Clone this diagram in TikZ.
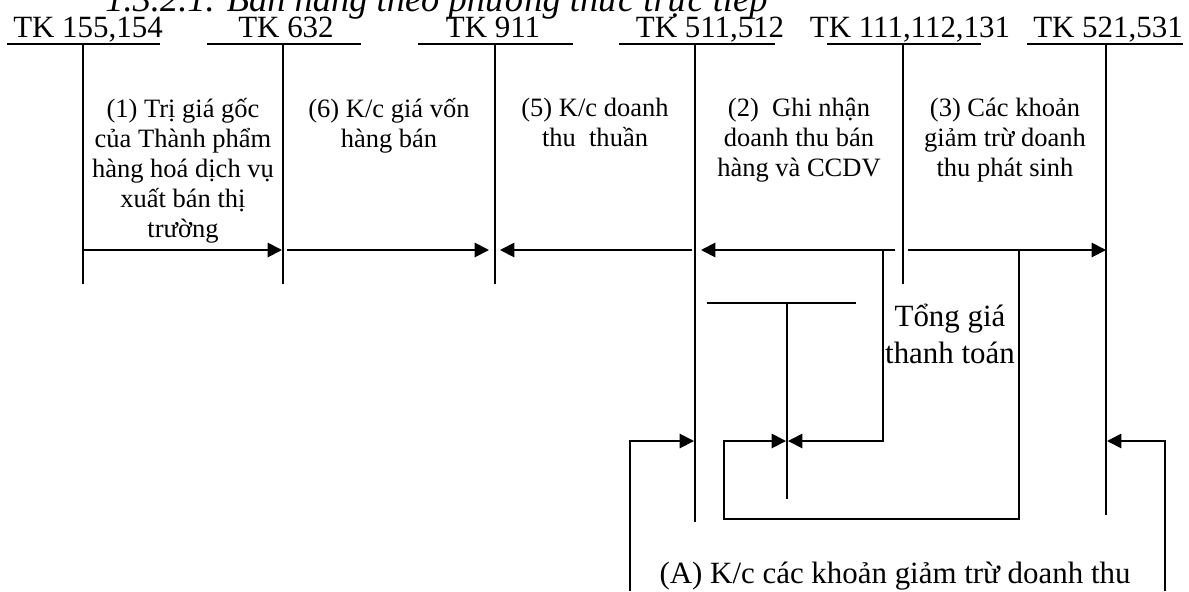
\documentclass[tikz,border=0pt]{standalone}
\usepackage{fontspec}
\setmainfont{Liberation Serif}
\usetikzlibrary{arrows.meta}

\begin{document}
\begin{tikzpicture}[
    x=0.4528pt, y=-0.4528pt,
    acct/.style={font=\fontsize{14}{16}\selectfont, anchor=base, inner sep=0pt},
    colnote/.style={font=\fontsize{12}{13.6}\selectfont, align=center, anchor=north, inner sep=0pt, execute at begin node=\strut},
    bignote/.style={font=\fontsize{14}{16.5}\selectfont, align=center, anchor=north, inner sep=0pt, execute at begin node=\strut},
    uline/.style={line width=0.6pt},
    tline/.style={line width=0.6pt},
    link/.style={line width=0.85pt},
    flow/.style={line width=0.85pt, -{Triangle[length=6.5pt,width=6.5pt]}},
  ]
    \useasboundingbox (0,0) rectangle (1189,591);

    % --- Title (cut at the top) ---
    \node[font=\fontsize{16.5}{18}\selectfont\itshape, anchor=base west, inner sep=0pt] (title) at (105,11)
      {1.3.2.1. Bán hàng theo phương thức trực tiếp};

    % --- Account headers ---
    \node[acct] (h1) at (88,37)   {TK 155,154};
    \node[acct] (h2) at (286,37)  {TK 632};
    \node[acct] (h3) at (493,37)  {TK 911};
    \node[acct] (h4) at (710,37)  {TK 511,512};
    \node[acct] (h5) at (910,37)  {TK 111,112,131};
    \node[acct] (h6) at (1108,37) {TK 521,531};
    \draw[uline] (7,44)    -- (160,44);
    \draw[uline] (207,44)  -- (361,44);
    \draw[uline] (418,44)  -- (573,44);
    \draw[uline] (619,44)  -- (775,44);
    \draw[uline] (827,44)  -- (981,44);
    \draw[uline] (1027,44) -- (1183,44);

    % --- T-account lines ---
    \coordinate (v1t) at (83,44);   \coordinate (v1b) at (83,284);
    \coordinate (v2t) at (283,44);  \coordinate (v2b) at (283,284);
    \coordinate (v3t) at (495,44);  \coordinate (v3b) at (495,284);
    \coordinate (v4t) at (695,44);  \coordinate (v4b) at (695,522);
    \coordinate (v5t) at (903,44);  \coordinate (v5b) at (903,284);
    \coordinate (v6t) at (1106,44); \coordinate (v6b) at (1106,515);
    \draw[tline] (v1t) -- (v1b);
    \draw[tline] (v2t) -- (v2b);
    \draw[tline] (v3t) -- (v3b);
    \draw[tline] (v4t) -- (v4b);
    \draw[tline] (v5t) -- (v5b);
    \draw[tline] (v6t) -- (v6b);

    % --- Entry notes ---
    \node[colnote] (n1) at (183,98)  {(1) Trị giá gốc\\của Thành phẩm\\hàng hoá dịch vụ\\xuất bán thị\\trường};
    \node[colnote] (n6) at (389,98)  {(6) K/c giá vốn\\hàng bán};
    \node[colnote] (n5) at (595,98)  {(5) K/c doanh\\thu\ \ thuần};
    \node[colnote] (n2) at (799,98)  {(2)\ \ Ghi nhận\\doanh thu bán\\hàng và CCDV};
    \node[colnote] (n3) at (1005,98) {(3) Các khoản\\giảm trừ doanh\\thu phát sinh};

    % --- Main row of entries ---
    \coordinate (r1) at (83,250);  \coordinate (r1e) at (282,250);
    \coordinate (r6) at (287,250); \coordinate (r6e) at (489,250);
    \coordinate (r5) at (692,250); \coordinate (r5e) at (500,250);
    \coordinate (r2) at (895,250); \coordinate (r2e) at (701,250);
    \coordinate (r3) at (908,250); \coordinate (r3e) at (1106,250);
    \draw[flow] (r1) -- (r1e);
    \draw[flow] (r6) -- (r6e);
    \draw[flow] (r5) -- (r5e);
    \draw[flow] (r2) -- (r2e);
    \draw[flow] (r3) -- (r3e);

    % --- Cash account (lower T) ---
    \coordinate (ct1) at (707,303); \coordinate (ct2) at (856,303);
    \coordinate (cs) at (787,303);  \coordinate (csb) at (787,499);
    \draw[link] (ct1) -- (ct2);
    \draw[tline] (cs) -- (csb);

    % total payment: 111 <- 511
    \coordinate (p0) at (883,250);
    \draw[flow] (p0) -- (883,441) -- (788,441);
    \node[bignote] (tong) at (950,304) {Tổng giá\\thanh toán};

    % loop from 521 entry back to cash
    \coordinate (q0) at (1019,250);
    \draw[flow] (q0) -- (1019,519) -- (724,519) -- (724,441) -- (786,441);

    % --- (A) transfer of deductions ---
    \coordinate (a0) at (630,591);
    \coordinate (b0) at (1165,591);
    \draw[flow] (a0) -- (630,441) -- (694,441);
    \draw[flow] (b0) -- (1165,441) -- (1107,441);
    \node[font=\fontsize{14}{16}\selectfont, anchor=base, inner sep=0pt] (ka) at (895,583)
      {(A) K/c các khoản giảm trừ doanh thu};
  \end{tikzpicture}
\end{document}
